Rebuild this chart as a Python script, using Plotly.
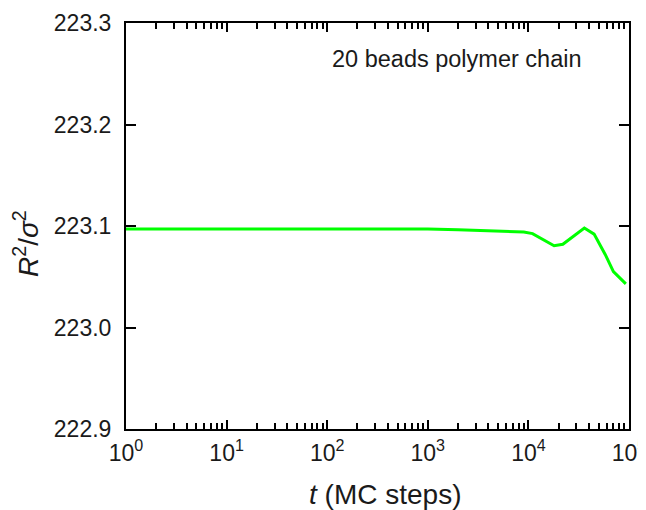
import plotly.graph_objects as go

# Data
t_steps = [1, 2, 3, 4, 5, 6, 7, 8, 9, 10, 20, 50, 100, 200, 500, 1000,
           2000, 5000, 9000, 11000, 14000, 18000, 22000, 28000, 36000,
           45000, 58000, 70000, 93000]
r2_values = [223.0970, 223.0971, 223.0968, 223.0973, 223.0968, 223.0972,
             223.0967, 223.0971, 223.0969, 223.0970, 223.0970, 223.0970,
             223.0970, 223.0970, 223.0970, 223.0970, 223.0962, 223.0950,
             223.0940, 223.0925, 223.0870, 223.0805, 223.0820, 223.0900,
             223.0980, 223.0920, 223.0720, 223.0550, 223.0430]

x_tickvals = [1, 10, 100, 1000, 10000, 100000]
x_ticktext = ["10<sup>0</sup>", "10<sup>1</sup>", "10<sup>2</sup>",
              "10<sup>3</sup>", "10<sup>4</sup>", "10<sup>5</sup>"]
y_tickvals = [222.9, 223.0, 223.1, 223.2, 223.3]
y_ticktext = ["222.9", "223.0", "223.1", "223.2", "223.3"]

x_title = "<i>t</i> (MC steps)"
y_title = "<i>R</i><sup>2</sup>/<i>σ</i><sup>2</sup>"
note_text = "20 beads polymer chain"

font_family = "Liberation Sans, Arial, sans-serif"
txt_color = "#1a1a1a"

# plot-area pixel frame (window coords) used to place texts
PL, PR, PT, PB = 126, 629, 23, 429

fig = go.Figure()
fig.add_trace(go.Scatter(
    x=t_steps, y=r2_values, mode="lines",
    line=dict(color="#00ff00", width=3),
    showlegend=False,
))

fig.update_layout(
    width=646, height=510,
    margin=dict(l=118, r=25, t=15, b=89),
    paper_bgcolor="white", plot_bgcolor="white",
    font=dict(family=font_family, color=txt_color, size=23),
    annotations=[
        dict(text=note_text, x=(584 - PL) / (PR - PL), y=223.265,
             xref="paper", yref="y", xanchor="right", yanchor="middle",
             showarrow=False, font=dict(size=23.5, color=txt_color)),
        dict(text=x_title, x=(385 - PL) / (PR - PL), y=(PB - 495) / (PB - PT),
             xref="paper", yref="paper", xanchor="center", yanchor="middle",
             showarrow=False, font=dict(size=28, color=txt_color)),
        dict(text=y_title, x=(26 - PL) / (PR - PL), y=(PB - 244) / (PB - PT),
             xref="paper", yref="paper", xanchor="center", yanchor="middle",
             textangle=-90, showarrow=False,
             font=dict(size=28, color=txt_color)),
    ],
)

fig.update_xaxes(
    type="log", range=[0, 5], automargin=False,
    tickvals=x_tickvals, ticktext=x_ticktext,
    ticks="inside", ticklen=9, tickwidth=2, tickcolor="black",
    minor=dict(ticks="inside", ticklen=6, tickwidth=1.5, tickcolor="black",
               dtick="D1", showgrid=False),
    showline=True, linecolor="black", linewidth=2, mirror="allticks",
    showgrid=False, zeroline=False,
    ticklabelstandoff=2, ticklabeloverflow="allow",
    tickfont=dict(size=23, color=txt_color),
)
fig.update_yaxes(
    range=[222.9, 223.3], automargin=False,
    tickvals=y_tickvals, ticktext=y_ticktext,
    ticks="inside", ticklen=10, tickwidth=2, tickcolor="black",
    showline=True, linecolor="black", linewidth=2, mirror="allticks",
    showgrid=False, zeroline=False,
    ticklabelstandoff=8, ticklabeloverflow="allow",
    tickfont=dict(size=23, color=txt_color),
)

fig.write_html("out.html")
